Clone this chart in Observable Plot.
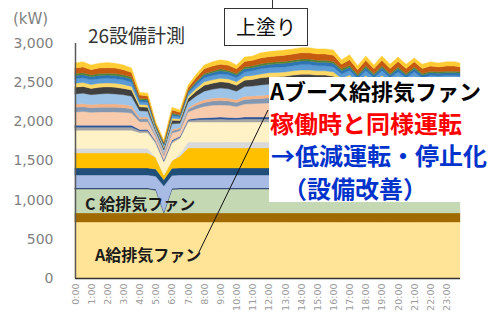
<!DOCTYPE html>
<html>
<head>
<meta charset="utf-8">
<script src="https://cdn.jsdelivr.net/npm/d3@7"></script>
<script src="https://cdn.jsdelivr.net/npm/@observablehq/plot@0.6"></script>
<style>
  html, body { margin: 0; padding: 0; background: #fff; }
  #wrap { position: relative; width: 489px; height: 319px; overflow: hidden; }
  #chart { position: absolute; left: 0; top: 0; }
  #chart svg g[aria-label^="y-axis"] text { font-size: 14px; fill: #7f7f7f; font-family: "DejaVu Sans", sans-serif; }
  #chart svg g[aria-label^="x-axis"] text { font-size: 9.5px; fill: #9a9a9a; font-family: "DejaVu Sans", sans-serif; }
  #over { position: absolute; left: 0; top: 0; pointer-events: none; }
  .t { position: absolute; white-space: nowrap; font-family: "Noto Sans CJK JP", sans-serif; }
  .b { font-weight: 700; }
  #box { position: absolute; left: 224px; top: 8px; width: 84px; height: 38px; box-sizing: border-box;
         border: 1px solid #333; background: #fff; text-align: center; line-height: 35px;
         font-size: 20px; font-family: "Noto Sans CJK JP", sans-serif; color: #111; }
  #white { position: absolute; left: 269px; top: 77px; width: 220px; height: 125px; background: #fff; }
  #note { left: 270px; top: 74px; font-size: 24px; line-height: 32.5px; }
</style>
</head>
<body>
<div id="wrap">
  <div id="chart"></div>
  <svg id="over" width="489" height="319">
    <line x1="199" y1="252" x2="268" y2="110" stroke="#111" stroke-width="1"/>
    <line x1="272.5" y1="0" x2="272.5" y2="8" stroke="#333" stroke-width="1"/>
  </svg>
  <div class="t" style="left:13px;top:9px;font-size:15px;line-height:20px;color:#7f7f7f;font-family:'DejaVu Sans',sans-serif;">(kW)</div>
  <div class="t" style="left:88px;top:22px;font-size:19px;line-height:26px;color:#333;">26設備計測</div>
  <div id="box">上塗り</div>
  <div class="t b" style="left:85px;top:192px;font-size:16px;line-height:22px;color:#1a1a1a;">C 給排気ファン</div>
  <div class="t b" style="left:95px;top:243px;font-size:16px;line-height:22px;color:#1a1a1a;">A給排気ファン</div>
  <div id="white"></div>
  <div id="note" class="t b"><span style="font-size:22px;color:#000;">Aブース給排気ファン</span><br><span style="color:#ff0000;">稼働時と同様運転</span><br><span style="color:#0033cc;margin-left:1px;">→低減運転・停止化</span><br><span style="color:#0033cc;margin-left:13px;">（設備改善）</span></div>
</div>
<script>
// time of each sample (30-minute data, last sample 23:50)
const times = ["0:00","0:30","1:00","1:30","2:00","2:30","3:00","3:30","4:00","4:30",
  "5:00","5:30","6:00","6:30","7:00","7:30","8:00","8:30","9:00","9:30",
  "10:00","10:30","11:00","11:30","12:00","12:30","13:00","13:30","14:00","14:30",
  "15:00","15:30","16:00","16:30","17:00","17:30","18:00","18:30","19:00","19:30",
  "20:00","20:30","21:00","21:30","22:00","22:30","23:00","23:30","23:50"];
const hourLabels = ["0:00","1:00","2:00","3:00","4:00","5:00","6:00","7:00","8:00","9:00","10:00","11:00",
  "12:00","13:00","14:00","15:00","16:00","17:00","18:00","19:00","20:00","21:00","22:00","23:00"];
const yTicks = [0, 500, 1000, 1500, 2000, 2500, 3000];

// stacked series, bottom to top (kW)
const aFan = [715,715,715,715,715,715,715,715,715,715, 715,715,715,715,715,715,715,715,715,715,
  715,715,715,715,715,715,715,715,715,715, 715,715,715,715,715,715,715,715,715,715, 715,715,715,715,715,715,715,715,715];
const eq02 = [115,115,115,115,115,115,115,115,115,115, 115,115,115,115,115,115,115,115,115,115,
  115,115,115,115,115,115,115,115,115,115, 115,115,115,115,115,115,115,115,115,115, 115,115,115,115,115,115,115,115,115];
const cFan = [305,305,305,305,305,305,305,305,305,305, 290,0,300,305,305,305,305,305,305,305,
  305,305,305,305,305,305,305,305,305,305, 305,305,305,305,305,305,305,305,305,305, 305,305,305,305,305,305,305,305,305];
const eq04 = [15,15,15,15,15,15,15,15,15,15, 15,15,15,15,15,15,15,15,15,15,
  15,15,15,15,15,15,15,15,15,15, 15,15,15,15,15,15,15,15,15,15, 15,15,15,15,15,15,15,15,15];
const eq05 = [165,165,165,165,165,165,165,165,165,165, 165,330,165,165,165,165,165,165,165,165,
  165,165,165,165,165,165,165,165,165,165, 165,165,165,165,165,165,165,165,165,165, 165,165,165,165,165,165,165,165,165];
const eq06 = [90,90,90,90,90,90,90,90,90,90, 90,80,90,90,90,90,90,90,90,90,
  90,90,90,90,90,90,90,90,90,90, 90,90,90,90,90,90,90,90,90,90, 90,90,90,90,90,90,90,90,90];
const eq07 = [190,190,190,190,190,190,190,190,190,190, 150,60,100,150,255,255,255,255,255,255,
  255,255,255,255,255,255,255,255,255,255, 255,255,255,255,255,255,255,255,255,255, 255,255,255,255,255,255,255,255,255];
const eq08 = [60,60,60,60,60,60,60,60,60,60, 0,0,0,30,75,75,75,75,75,75,
  75,75,75,75,75,75,75,75,75,75, 75,75,75,75,75,75,75,75,75,75, 75,75,75,75,75,75,75,75,75];
const eq09 = [230,230,230,230,230,230,230,230,200,200, 180,165,225,200,255,255,255,255,255,255,
  255,255,255,255,255,255,255,255,255,255, 255,255,255,255,255,255,255,255,255,255, 255,255,255,255,255,255,255,255,255];
const eq10 = [40,40,40,40,40,40,40,40,25,25, 15,15,20,15,20,30,35,35,40,35,
  35,40,40,40,40,40,40,45,45,45, 45,45,40,40,40,35,40,35,40,35, 40,35,40,35,35,35,35,35,35];
const eq11 = [25,25,25,25,25,25,25,25,15,15, 10,10,15,10,15,20,20,25,25,25,
  20,25,25,25,25,25,25,25,25,25, 25,25,25,25,25,20,25,20,25,20, 25,20,25,20,25,25,25,25,25];
const eq12 = [170,175,165,170,170,170,165,155,100,100, 55,55,90,70,95,120,145,155,155,155,
  145,165,170,175,180,180,185,185,190,190, 185,185,185,155,170,145,170,145,170,145, 165,145,165,145,155,150,155,155,150];
const eq13 = [60,60,60,60,60,60,60,55,35,35, 20,20,30,25,35,45,50,55,55,55,
  50,60,60,60,65,65,65,65,65,65, 65,65,65,55,60,50,60,50,60,50, 60,50,60,50,55,55,55,55,55];
const eq14 = [40,40,40,40,40,40,40,40,25,25, 10,15,20,15,20,30,35,35,40,35,
  35,40,40,40,40,40,40,45,45,45, 45,45,40,40,40,35,40,35,40,35, 40,35,40,35,35,35,35,35,35];
const eq15 = [130,135,125,130,135,130,125,120,80,75, 40,40,70,55,70,90,110,115,120,120,
  110,125,125,135,135,140,140,140,145,145, 140,140,140,120,130,110,125,110,125,110, 125,110,125,110,115,115,115,115,115];
const eq16 = [85,85,80,85,85,85,80,80,50,50, 25,25,45,35,45,60,75,75,80,80,
  75,80,85,90,90,90,90,95,95,95, 95,95,90,80,85,70,85,75,85,75, 80,75,80,75,75,75,75,75,75];
const eq17 = [50,50,50,50,50,50,50,45,30,30, 15,15,25,20,30,35,45,45,45,45,
  45,50,50,50,55,55,55,55,55,55, 55,55,55,45,50,40,50,45,50,45, 50,45,50,45,45,45,45,45,45];
const eq18 = [60,60,60,60,60,60,60,55,35,35, 20,20,30,25,35,45,50,55,55,55,
  50,55,60,65,65,65,65,65,70,70, 65,65,65,55,60,50,60,50,60,50, 55,50,55,50,55,55,55,55,55];
const eq19 = [40,40,40,40,40,40,40,40,25,25, 15,15,20,20,20,30,35,35,40,35,
  35,40,40,40,40,45,45,45,45,45, 45,45,45,40,40,35,40,35,40,35, 40,35,40,35,35,35,35,35,35];
const eq20 = [25,25,25,25,25,25,25,25,15,15, 5,10,15,10,15,15,20,20,25,20,
  20,25,25,25,25,25,25,25,25,25, 25,25,25,25,25,20,25,20,25,20, 25,20,25,20,20,20,20,20,20];
const eq21 = [70,75,65,70,70,70,65,60,45,40, 20,20,40,30,40,50,60,65,60,65,
  60,70,70,75,75,75,80,80,80,80, 80,80,80,60,70,60,70,60,70,65, 70,65,65,65,65,60,65,65,60];
const eq22 = [65,65,60,60,65,60,60,55,35,35, 20,20,35,30,35,40,50,55,55,55,
  50,55,55,65,65,65,65,65,65,65, 65,65,65,55,65,50,55,50,55,55, 55,55,50,55,55,50,55,55,50];

const names = ["A給排気ファン","設備02","C給排気ファン","設備04","設備05","設備06","設備07","設備08","設備09",
  "設備10","設備11","設備12","設備13","設備14","設備15","設備16","設備17","設備18","設備19","設備20","設備21","設備22"];
const series = [aFan,eq02,cFan,eq04,eq05,eq06,eq07,eq08,eq09,eq10,eq11,eq12,eq13,eq14,eq15,eq16,eq17,eq18,eq19,eq20,eq21,eq22];
const colors = ["#FFE497","#A06A00","#C5D8B4","#203864","#A7BBE5","#1F4E79","#FFC000","#D9D9D9","#FFF2C6",
  "#A6A6A6","#2F5597","#F8CBAD","#8497B0","#F4B183","#9DC3E6","#404040","#FFD966","#5B9BD5","#2E75B6","#548235","#C55A11","#FFCC33"];

const toHours = s => { const [h, m] = s.split(":").map(Number); return h + m / 60; };
const hours = times.map(toHours);
const tickHours = hourLabels.map(toHours);

const rows = [];
series.forEach((vals, i) => vals.forEach((v, j) => rows.push({name: names[i], t: hours[j], v})));

const chart = Plot.plot({
  width: 489, height: 319,
  marginLeft: 75, marginRight: 29, marginTop: 43, marginBottom: 41,
  style: {fontFamily: "DejaVu Sans, sans-serif", background: "transparent"},
  x: {type: "linear", domain: [0, hours[hours.length - 1]], ticks: tickHours,
      tickFormat: d => hourLabels[tickHours.indexOf(d)], tickRotate: -90, tickSize: 0, tickPadding: 5, label: null},
  y: {domain: [0, 3000], ticks: yTicks, tickFormat: d3.format(","), tickSize: 0, tickPadding: 22, label: null},
  color: {domain: names, range: colors},
  marks: [
    Plot.areaY(rows, {x: "t", y: "v", z: "name", fill: "name", stroke: "name", strokeWidth: 0.4, curve: "linear"}),
    Plot.ruleX([0], {stroke: "#595959", strokeWidth: 1.5}),
    Plot.ruleY([0], {stroke: "#333333", strokeWidth: 1.5})
  ]
});
document.getElementById("chart").appendChild(chart);
</script>
</body>
</html>
